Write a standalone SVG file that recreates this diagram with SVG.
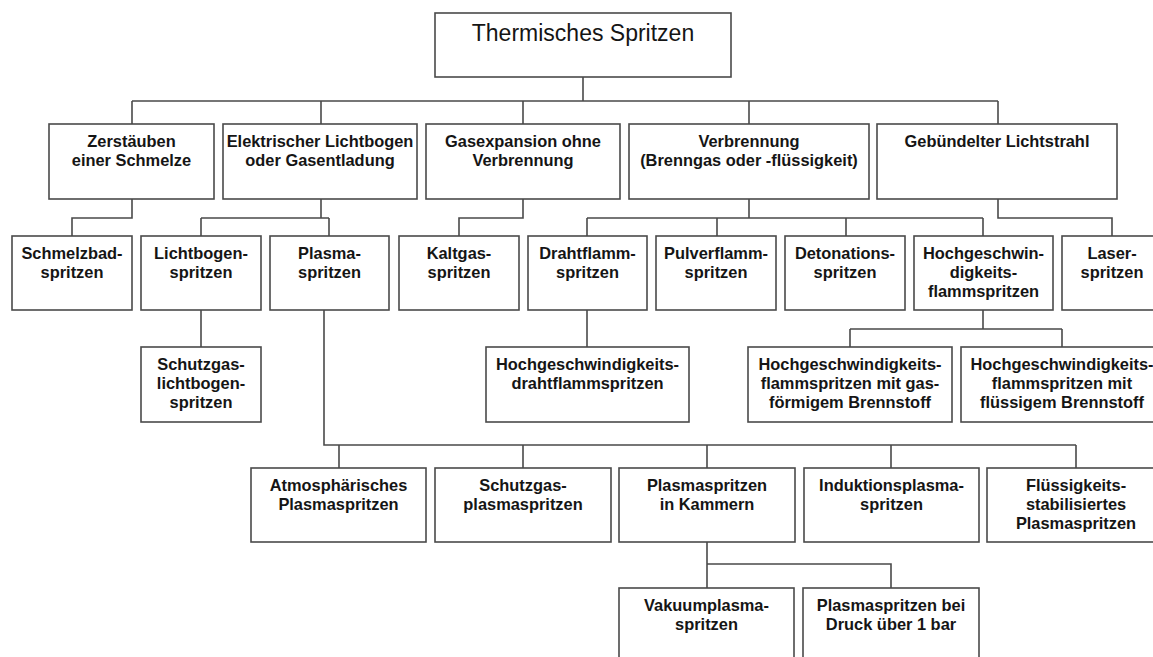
<svg xmlns="http://www.w3.org/2000/svg" width="1153" height="657" viewBox="0 0 1153 657">
<style>
rect{fill:#fff;stroke:#4a4a4a;stroke-width:1.6}
#connectors path{fill:none;stroke:#4a4a4a;stroke-width:1.6}
text{font-family:"Liberation Sans",Arial,sans-serif;font-size:16.4px;font-weight:bold;fill:#151515;text-anchor:middle}
text.title{font-size:23px;font-weight:normal}
</style>
<rect x="0" y="0" width="1153" height="657" style="fill:#fff;stroke:none"/>
<g id="connectors">
<path d="M583,77V101M132,101H998M132,101V124M321,101V124M523,101V124M749,101V124M998,101V124"/>
<path d="M132,199V218H72V236"/>
<path d="M321,199V218M201,218H329M201,218V236M329,218V236"/>
<path d="M523,199V218H459V236"/>
<path d="M749,199V218M587,218H983M587,218V236M717,218V236M846,218V236M983,218V236"/>
<path d="M998,199V218H1112V236"/>
<path d="M201,310V347"/>
<path d="M587,310V347"/>
<path d="M983,310V329M850,329H1062M850,329V347M1062,329V347"/>
<path d="M324,310V445H1076M339,445V468M523,445V468M707,445V468M891,445V468M1076,445V468"/>
<path d="M707,542V588M707,564H891V588"/>
</g>
<g id="root"><rect x="435" y="13" width="296" height="64"/><text class="title" x="583" y="41">Thermisches Spritzen</text></g>
<g id="zerstaeuben"><rect x="49" y="124" width="165" height="75"/><text x="131.5" y="147">Zerstäuben</text><text x="131.5" y="166">einer Schmelze</text></g>
<g id="elektrisch"><rect x="223" y="124" width="194" height="75"/><text x="320" y="147">Elektrischer Lichtbogen</text><text x="320" y="166">oder Gasentladung</text></g>
<g id="gasexpansion"><rect x="426" y="124" width="194" height="75"/><text x="523" y="147">Gasexpansion ohne</text><text x="523" y="166">Verbrennung</text></g>
<g id="verbrennung"><rect x="629" y="124" width="240" height="75"/><text x="749" y="147">Verbrennung</text><text x="749" y="166">(Brenngas oder -flüssigkeit)</text></g>
<g id="lichtstrahl"><rect x="877" y="124" width="240" height="75"/><text x="997" y="147">Gebündelter Lichtstrahl</text></g>
<g id="schmelzbad"><rect x="12" y="236" width="120" height="74"/><text x="72" y="259">Schmelzbad-</text><text x="72" y="278">spritzen</text></g>
<g id="lichtbogen"><rect x="141" y="236" width="120" height="74"/><text x="201" y="259">Lichtbogen-</text><text x="201" y="278">spritzen</text></g>
<g id="plasma"><rect x="270" y="236" width="119" height="74"/><text x="329.5" y="259">Plasma-</text><text x="329.5" y="278">spritzen</text></g>
<g id="kaltgas"><rect x="399" y="236" width="120" height="74"/><text x="459" y="259">Kaltgas-</text><text x="459" y="278">spritzen</text></g>
<g id="drahtflamm"><rect x="528" y="236" width="119" height="74"/><text x="587.5" y="259">Drahtflamm-</text><text x="587.5" y="278">spritzen</text></g>
<g id="pulverflamm"><rect x="656" y="236" width="120" height="74"/><text x="716" y="259">Pulverflamm-</text><text x="716" y="278">spritzen</text></g>
<g id="detonation"><rect x="785" y="236" width="120" height="74"/><text x="845" y="259">Detonations-</text><text x="845" y="278">spritzen</text></g>
<g id="hvof"><rect x="914" y="236" width="139" height="74"/><text x="983.5" y="259">Hochgeschwin-</text><text x="983.5" y="278">digkeits-</text><text x="983.5" y="297">flammspritzen</text></g>
<g id="laser"><rect x="1062" y="236" width="100" height="74"/><text x="1112" y="259">Laser-</text><text x="1112" y="278">spritzen</text></g>
<g id="schutzgaslichtbogen"><rect x="141" y="347" width="120" height="75"/><text x="201" y="370">Schutzgas-</text><text x="201" y="389">lichtbogen-</text><text x="201" y="408">spritzen</text></g>
<g id="hvdraht"><rect x="486" y="347" width="203" height="75"/><text x="587.5" y="370">Hochgeschwindigkeits-</text><text x="587.5" y="389">drahtflammspritzen</text></g>
<g id="hvofgas"><rect x="748" y="347" width="204" height="75"/><text x="850" y="370">Hochgeschwindigkeits-</text><text x="850" y="389">flammspritzen mit gas-</text><text x="850" y="408">förmigem Brennstoff</text></g>
<g id="hvofliquid"><rect x="961" y="347" width="202" height="75"/><text x="1062" y="370">Hochgeschwindigkeits-</text><text x="1062" y="389">flammspritzen mit</text><text x="1062" y="408">flüssigem Brennstoff</text></g>
<g id="aps"><rect x="251" y="468" width="175" height="74"/><text x="338.5" y="491">Atmosphärisches</text><text x="338.5" y="510">Plasmaspritzen</text></g>
<g id="schutzgasplasma"><rect x="435" y="468" width="176" height="74"/><text x="523" y="491">Schutzgas-</text><text x="523" y="510">plasmaspritzen</text></g>
<g id="kammern"><rect x="619" y="468" width="176" height="74"/><text x="707" y="491">Plasmaspritzen</text><text x="707" y="510">in Kammern</text></g>
<g id="induktion"><rect x="804" y="468" width="175" height="74"/><text x="891.5" y="491">Induktionsplasma-</text><text x="891.5" y="510">spritzen</text></g>
<g id="fluessig"><rect x="987" y="468" width="178" height="74"/><text x="1076" y="491">Flüssigkeits-</text><text x="1076" y="510">stabilisiertes</text><text x="1076" y="529">Plasmaspritzen</text></g>
<g id="vakuum"><rect x="619" y="588" width="175" height="82"/><text x="706.5" y="611">Vakuumplasma-</text><text x="706.5" y="630">spritzen</text></g>
<g id="druck"><rect x="803" y="588" width="176" height="82"/><text x="891" y="611">Plasmaspritzen bei</text><text x="891" y="630">Druck über 1 bar</text></g>
</svg>
